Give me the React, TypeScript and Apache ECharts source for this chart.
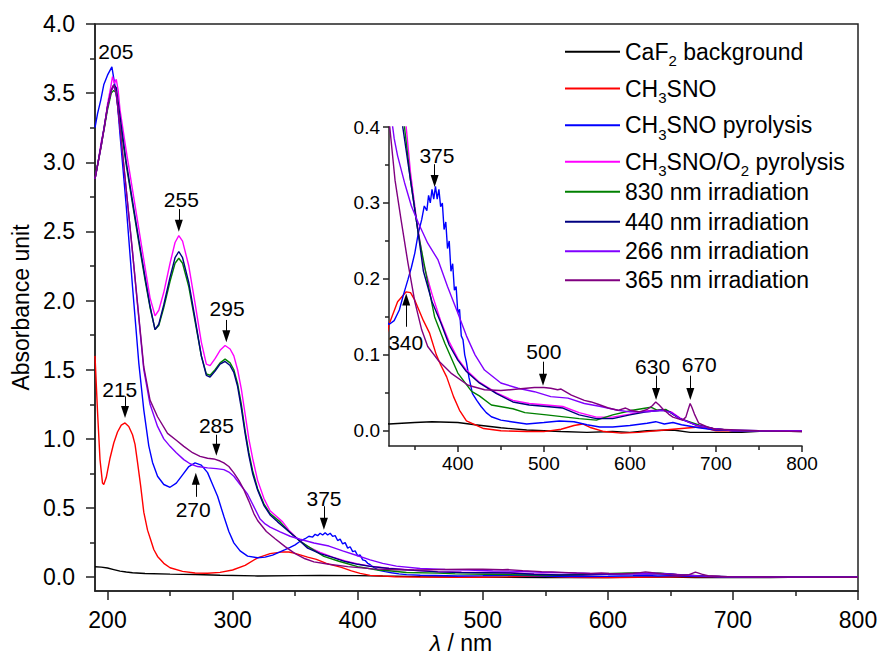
import React, { useEffect, useRef } from 'react';
import * as echarts from 'echarts';

// ---------- data (wavelength in nm, absorbance) ----------
const seriesNames = [
  'CaF2 background',
  'CH3SNO',
  'CH3SNO pyrolysis',
  'CH3SNO/O2 pyrolysis',
  '830 nm irradiation',
  '440 nm irradiation',
  '266 nm irradiation',
  '365 nm irradiation',
];
const legendRich = [
  '{n|CaF}{s|2}{n| background}',
  '{n|CH}{s|3}{n|SNO}',
  '{n|CH}{s|3}{n|SNO pyrolysis}',
  '{n|CH}{s|3}{n|SNO/O}{s|2}{n| pyrolysis}',
  '{n|830 nm irradiation}',
  '{n|440 nm irradiation}',
  '{n|266 nm irradiation}',
  '{n|365 nm irradiation}',
];
const seriesColors = ['#000000', '#ff0000', '#0000ff', '#ff00ff', '#008000', '#000080', '#8000ff', '#800080'];

const bgData = [[190,0.075],[195,0.073],[200,0.066],[205,0.055],[210,0.044],[215,0.037],[220,0.032],[230,0.027],[250,0.022],[270,0.019],[290,0.014],[320,0.009],[350,0.011],[370,0.012],[400,0.011],[420,0.008],[450,0.004],[480,0.001],[500,0.0],[520,-0.001],[550,-0.002],[580,-0.001],[600,-0.002],[620,0.0],[650,0.001],[670,-0.002],[700,-0.002],[730,-0.002],[760,0.0],[800,-0.001]];

const ch3snoData = [[190,1.6],[192,1.2],[194,0.85],[196,0.68],[197,0.67],[199,0.72],[202,0.86],[205,0.97],[208,1.05],[211,1.1],[214,1.115],[217,1.09],[220,1.03],[222,0.96],[224,0.83],[226.5,0.66],[229,0.47],[232,0.34],[234.5,0.27],[237,0.2],[240,0.15],[245,0.1],[250,0.068],[260,0.042],[270,0.03],[280,0.028],[290,0.035],[300,0.052],[310,0.085],[320,0.14],[330,0.17],[340,0.183],[345,0.182],[350,0.172],[360,0.145],[367,0.129],[375,0.1],[380,0.087],[387,0.071],[395,0.045],[402,0.027],[410,0.013],[421,0.0075],[430,0.003],[450,0.0],[480,-0.001],[500,-0.001],[520,0.002],[535,0.007],[545,0.009],[555,0.004],[570,-0.001],[590,-0.003],[610,-0.002],[640,0.001],[660,0.003],[680,0.005],[690,0.003],[700,0.0],[800,0.0]];

const pyrolysisData = [[190,3.25],[192,3.35],[194.6,3.45],[197,3.56],[200,3.63],[203.5,3.69],[206,3.55],[208,3.42],[210,3.2],[215,2.68],[220,2.1],[222,1.88],[225,1.55],[229,1.21],[233,0.95],[236,0.83],[240,0.73],[245,0.67],[250,0.65],[255,0.68],[260,0.74],[265,0.8],[270,0.826],[275,0.81],[280,0.756],[284,0.67],[288,0.585],[293,0.44],[297,0.33],[301,0.248],[306,0.19],[312,0.152],[320,0.14],[326,0.145],[332,0.159],[337,0.18],[342,0.199],[346,0.215],[350,0.234],[354,0.26],[358,0.278],[361,0.296],[364,0.29],[366,0.31],[368,0.3],[370,0.318],[372,0.305],[374,0.322],[376,0.305],[378,0.318],[380,0.295],[382,0.3],[384,0.265],[386,0.275],[388,0.24],[390,0.25],[392,0.21],[394,0.22],[396,0.185],[398,0.19],[400,0.155],[402,0.16],[404,0.125],[406,0.12],[408,0.1],[410,0.09],[413,0.07],[417,0.049],[422,0.04],[427,0.032],[433,0.024],[439,0.0185],[450,0.014],[462,0.012],[480,0.009],[500,0.011],[518,0.013],[535,0.012],[550,0.008],[565,0.005],[580,0.005],[600,0.007],[620,0.01],[630,0.012],[640,0.009],[650,0.011],[660,0.008],[680,0.004],[700,0.001],[750,0.0],[800,0.0]];

const o2PyrolysisData = [[190,2.88],[192.5,3.0],[195,3.15],[197.5,3.25],[200,3.42],[202.5,3.54],[204,3.62],[205.5,3.57],[207,3.6],[208.5,3.52],[210,3.38],[215,3.08],[220,2.8],[225,2.52],[230,2.24],[234,2.02],[238,1.89],[241,1.93],[245,2.06],[250,2.27],[254,2.42],[257,2.47],[260,2.43],[265,2.25],[270,1.98],[275,1.7],[279,1.54],[282,1.53],[286,1.58],[290,1.64],[294,1.675],[298,1.65],[301,1.6],[304,1.5],[307,1.36],[310,1.18],[313,1.0],[316,0.86],[320,0.7],[325,0.57],[330,0.48],[335,0.44],[340,0.4],[345,0.34],[352,0.278],[360,0.22],[370,0.18],[380,0.145],[390,0.117],[400,0.095],[410,0.08],[425,0.064],[445,0.05],[464,0.04],[483,0.036],[503,0.034],[522,0.032],[541,0.024],[561,0.018],[580,0.018],[600,0.022],[619,0.026],[638,0.028],[648,0.025],[658,0.017],[677,0.0075],[696,0.003],[720,0.0],[800,0.0]];

const irr830Data = [[190,2.88],[195,3.12],[200,3.38],[203,3.5],[205,3.52],[207,3.5],[209,3.35],[215,2.98],[220,2.7],[225,2.42],[230,2.15],[234,1.95],[238,1.79],[241,1.82],[245,1.95],[250,2.14],[254,2.27],[257,2.306],[260,2.27],[265,2.1],[270,1.85],[275,1.6],[279,1.47],[282,1.46],[286,1.5],[290,1.55],[294,1.577],[298,1.55],[301,1.5],[304,1.4],[307,1.25],[310,1.06],[313,0.9],[316,0.77],[320,0.64],[325,0.53],[330,0.46],[338,0.4],[345,0.33],[354,0.26],[365,0.195],[373,0.15],[385,0.115],[400,0.076],[416,0.052],[425,0.046],[439,0.034],[464,0.029],[478,0.024],[503,0.021],[541,0.016],[561,0.014],[580,0.021],[603,0.027],[619,0.03],[625,0.031],[632,0.027],[642,0.028],[658,0.016],[681,0.0075],[696,0.003],[720,0.0],[800,0.0]];

const irr440Data = [[190,2.88],[195,3.13],[200,3.4],[203,3.52],[205,3.56],[207,3.54],[209,3.4],[215,3.0],[220,2.72],[225,2.44],[230,2.17],[234,1.96],[238,1.79],[241,1.83],[245,1.97],[250,2.17],[254,2.31],[257,2.355],[260,2.31],[265,2.13],[270,1.87],[275,1.6],[279,1.46],[282,1.447],[286,1.49],[290,1.54],[294,1.56],[298,1.53],[301,1.48],[304,1.38],[307,1.22],[310,1.04],[313,0.88],[316,0.75],[320,0.63],[325,0.52],[330,0.45],[336,0.4],[345,0.33],[354,0.26],[360,0.21],[370,0.17],[380,0.143],[390,0.113],[400,0.093],[410,0.078],[425,0.063],[445,0.049],[464,0.038],[483,0.034],[503,0.032],[522,0.03],[541,0.021],[561,0.016],[580,0.016],[600,0.021],[619,0.025],[638,0.027],[646,0.025],[658,0.016],[677,0.0075],[696,0.003],[720,0.0],[800,0.0]];

const irr266Data = [[190,2.88],[195,3.12],[200,3.4],[203,3.52],[205,3.55],[207,3.5],[210,3.25],[215,2.8],[220,2.35],[224,1.97],[229,1.5],[234,1.25],[240,1.09],[245,1.0],[250,0.946],[255,0.9],[261,0.85],[266,0.82],[272,0.8],[280,0.79],[287,0.785],[293,0.778],[297,0.76],[301,0.73],[306,0.67],[312,0.6],[317,0.51],[322,0.42],[326,0.385],[330,0.362],[338,0.327],[346,0.296],[354,0.274],[365,0.247],[377,0.225],[388,0.19],[400,0.155],[410,0.125],[420,0.1],[431,0.08],[450,0.063],[470,0.056],[489,0.0515],[508,0.045],[528,0.043],[547,0.036],[566,0.032],[586,0.027],[600,0.025],[619,0.025],[638,0.027],[648,0.024],[658,0.016],[677,0.0075],[696,0.003],[720,0.0],[800,0.0]];

const irr365Data = [[190,2.88],[195,3.12],[200,3.4],[203,3.52],[205,3.56],[207,3.5],[210,3.25],[215,2.8],[220,2.35],[224,1.98],[229,1.52],[234,1.28],[240,1.16],[248,1.04],[255,0.99],[261,0.946],[268,0.9],[274,0.874],[280,0.86],[285,0.855],[290,0.84],[293,0.826],[297,0.8],[301,0.754],[305,0.7],[309,0.633],[313,0.55],[317,0.46],[320,0.41],[327,0.33],[334,0.278],[342,0.221],[350,0.17],[358,0.133],[365,0.111],[377,0.093],[392,0.076],[412,0.06],[431,0.054],[450,0.053],[470,0.055],[489,0.057],[500,0.057],[508,0.056],[516,0.054],[520,0.055],[532,0.047],[547,0.04],[555,0.038],[563,0.035],[575,0.03],[586,0.027],[595,0.03],[601,0.027],[611,0.025],[620,0.028],[626,0.033],[630,0.038],[634,0.034],[638,0.029],[645,0.022],[650,0.018],[661,0.014],[665,0.018],[668,0.029],[670,0.036],[672,0.031],[675,0.022],[680,0.01],[690,0.005],[700,0.002],[750,0.0],[800,-0.001]];

const seriesData = [bgData, ch3snoData, pyrolysisData, o2PyrolysisData, irr830Data, irr440Data, irr266Data, irr365Data];

// tick values
const mainXLabels = [200, 300, 400, 500, 600, 700, 800];
const mainXMinor = [250, 350, 450, 550, 650, 750];
const mainYLabels = [0, 0.5, 1.0, 1.5, 2.0, 2.5, 3.0, 3.5, 4.0];
const mainYMinor = [0.25, 0.75, 1.25, 1.75, 2.25, 2.75, 3.25, 3.75];
const insetXLabels = [400, 500, 600, 700, 800];
const insetXMinor = [350, 450, 550, 650, 750];
const insetYLabels = [0, 0.1, 0.2, 0.3, 0.4];
const insetYMinor = [0.05, 0.15, 0.25, 0.35];

// peak annotations (data coordinates)
const mainPeakLabels = [
  { text: '205', x: 206.7, y: 3.8 },
  { text: '255', x: 259, y: 2.734 },
  { text: '295', x: 295.6, y: 1.94 },
  { text: '215', x: 209.8, y: 1.36 },
  { text: '285', x: 287.1, y: 1.097 },
  { text: '270', x: 268.5, y: 0.489 },
  { text: '375', x: 373.1, y: 0.568 },
];
const mainArrows = [
  { x: 257, from: 2.662, to: 2.541 },
  { x: 295, from: 1.86, to: 1.743 },
  { x: 214, from: 1.307, to: 1.194 },
  { x: 287, from: 1.03, to: 0.922 },
  { x: 270.6, from: 0.581, to: 0.711 },
  { x: 373, from: 0.513, to: 0.387 },
];
const insetPeakLabels = [
  { text: '375', x: 375.7, y: 0.3626 },
  { text: '340', x: 339.4, y: 0.1167 },
  { text: '500', x: 499.9, y: 0.1043 },
  { text: '630', x: 626.4, y: 0.0845 },
  { text: '670', x: 680.6, y: 0.0867 },
];
const insetArrows = [
  { x: 373, from: 0.351, to: 0.329 },
  { x: 340, from: 0.137, to: 0.173 },
  { x: 499, from: 0.091, to: 0.0673 },
  { x: 630.4, from: 0.0726, to: 0.0484 },
  { x: 670.2, from: 0.0726, to: 0.0484 },
];

const FONT = '"Liberation Sans", Arial, Helvetica, sans-serif';
const AX = '#222222';
const legendCenters = [48.3, 85, 121.7, 158.3, 193.3, 223.3, 252.7, 281.7];

function axis(gridIndex: number, min: number, max: number, labels: number[] | null, ticks: number[], tickLen: number, fontSize: number, margin: number, digits: number, showLine: boolean, extra: any = {}, labelExtra: any = {}) {
  return {
    type: 'value',
    gridIndex,
    min,
    max,
    axisLine: { show: showLine, onZero: false, lineStyle: { color: AX, width: 1.5 } },
    axisTick: { show: true, inside: false, customValues: ticks, length: tickLen, lineStyle: { color: AX, width: 1.5 } },
    axisLabel: labels
      ? { show: true, customValues: labels, fontSize, margin, color: '#000', fontFamily: FONT, formatter: (v: number) => v.toFixed(digits), ...labelExtra }
      : { show: false },
    splitLine: { show: false },
    ...extra,
  };
}

function buildOption() {
  const mainSeries = seriesNames.map((name, i) => ({
    type: 'line',
    name,
    xAxisIndex: 0,
    yAxisIndex: 0,
    data: seriesData[i],
    symbol: 'none',
    showSymbol: false,
    silent: true,
    clip: true,
    lineStyle: { width: 1.4, color: seriesColors[i] },
    itemStyle: { color: seriesColors[i] },
  }));
  const insetSeries = seriesNames.map((name, i) => ({
    type: 'line',
    name,
    xAxisIndex: 2,
    yAxisIndex: 2,
    data: seriesData[i],
    symbol: 'none',
    showSymbol: false,
    silent: true,
    clip: true,
    lineStyle: { width: 1.4, color: seriesColors[i] },
    itemStyle: { color: seriesColors[i] },
  }));
  const markLineFor = (arrows: any[]) => ({
    silent: true,
    symbol: ['none', 'triangle'],
    symbolSize: [8, 12],
    lineStyle: { color: '#000', width: 1, type: 'solid' },
    itemStyle: { color: '#000' },
    label: { show: false },
    emphasis: { disabled: true },
    data: arrows.map((a) => [{ coord: [a.x, a.from] }, { coord: [a.x, a.to] }]),
  });
  const markPointFor = (labels: any[], fontSize: number) => ({
    silent: true,
    symbol: 'rect',
    symbolSize: 1,
    itemStyle: { color: 'rgba(0,0,0,0)' },
    label: { show: true, position: 'inside', formatter: '{b}', fontSize, color: '#000', fontFamily: FONT },
    data: labels.map((l) => ({ name: l.text, coord: [l.x, l.y] })),
  });
  (mainSeries[0] as any).markLine = markLineFor(mainArrows);
  (mainSeries[0] as any).markPoint = markPointFor(mainPeakLabels, 21);
  (insetSeries[0] as any).markLine = markLineFor(insetArrows);
  (insetSeries[0] as any).markPoint = markPointFor(insetPeakLabels, 21);

  const legends = seriesNames.map((name, i) => ({
    data: [name],
    left: 565,
    top: legendCenters[i] - 13,
    padding: 0,
    itemWidth: 55,
    itemHeight: 2,
    icon: 'rect',
    selectedMode: false,
    formatter: () => legendRich[i],
    textStyle: {
      rich: {
        n: { fontSize: 23, lineHeight: 26, color: '#000', fontFamily: FONT },
        s: { fontSize: 15, lineHeight: 26, padding: [18, 0, 0, 0], color: '#000', fontFamily: FONT },
      },
    },
  }));

  return {
    animation: false,
    backgroundColor: '#ffffff',
    textStyle: { fontFamily: FONT },
    grid: [
      { left: 95, top: 24, width: 763, height: 567, show: true, borderColor: AX, borderWidth: 1.5, backgroundColor: 'transparent', containLabel: false, outerBoundsMode: 'none' },
      { left: 389, top: 127, width: 413, height: 319, show: false, containLabel: false, outerBoundsMode: 'none' },
    ],
    legend: legends,
    xAxis: [
      axis(0, 190, 800, mainXLabels, mainXLabels, 9, 23, 18.5, 0, true, {
        name: '{i|λ} / nm',
        nameLocation: 'middle',
        nameGap: 42,
        nameMoveOverlap: false,
        nameTextStyle: {
          fontSize: 23,
          lineHeight: 20,
          color: '#000',
          fontFamily: FONT,
          padding: [0, 31, 0, 0],
          rich: { i: { fontStyle: 'italic', fontSize: 23, lineHeight: 20, color: '#000', fontFamily: FONT } },
        },
      }, { lineHeight: 20 }),
      axis(0, 190, 800, null, mainXMinor, 5, 23, 19, 0, false, { position: 'bottom' }),
      axis(1, 320, 800, insetXLabels, insetXLabels, 6, 19, 8, 0, true),
      axis(1, 320, 800, null, insetXMinor, 4, 19, 8, 0, false, { position: 'bottom' }),
    ],
    yAxis: [
      axis(0, -0.1, 4.0, mainYLabels, mainYLabels, 9, 23, 20, 1, true, {
        name: 'Absorbance unit',
        nameLocation: 'middle',
        nameGap: 58,
        nameTextStyle: { fontSize: 23, color: '#000', fontFamily: FONT },
      }),
      axis(0, -0.1, 4.0, null, mainYMinor, 5, 23, 20, 1, false, { position: 'left' }),
      axis(1, -0.02, 0.4, insetYLabels, insetYLabels, 6, 19, 9, 1, true),
      axis(1, -0.02, 0.4, null, insetYMinor, 4, 19, 9, 1, false, { position: 'left' }),
    ],
    series: [...mainSeries, ...insetSeries],
  };
}

export default function App() {
  const ref = useRef<HTMLDivElement>(null);
  useEffect(() => {
    if (!ref.current) return;
    const chart = echarts.init(ref.current, null, { renderer: 'svg' });
    chart.setOption(buildOption() as any);
    return () => chart.dispose();
  }, []);
  return <div ref={ref} style={{ position: 'absolute', left: 0, top: 0, width: 878, height: 655 }} />;
}
